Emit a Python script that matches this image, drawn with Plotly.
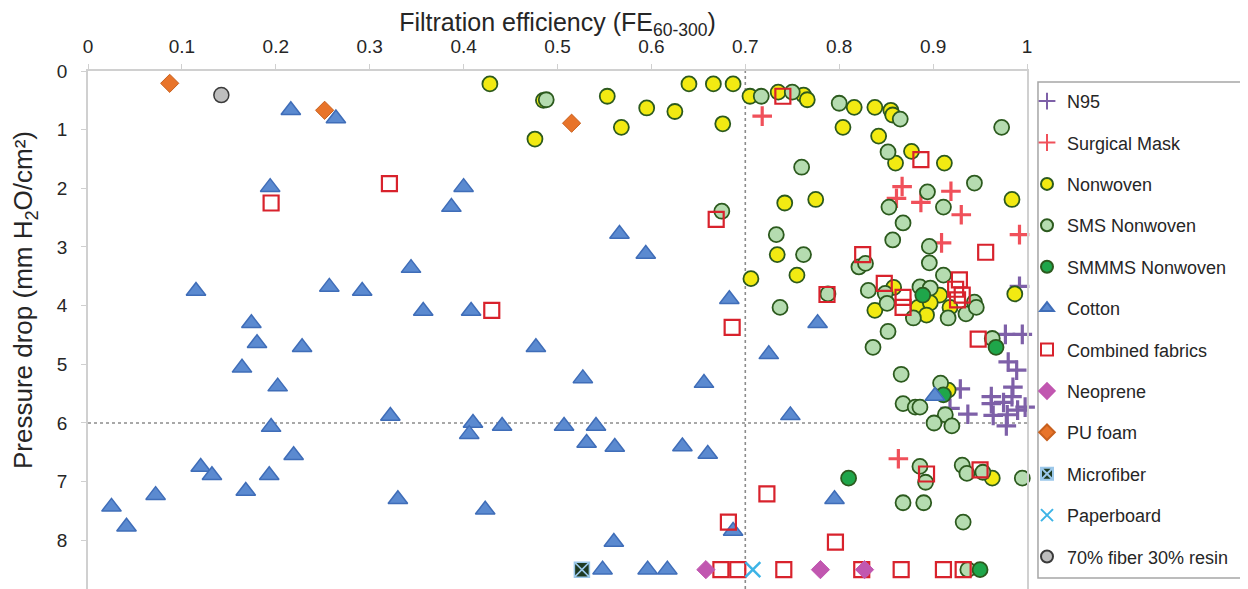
import plotly.graph_objects as go

# ---------------- data ----------------
n95_x = [0.992, 0.977, 0.995, 0.980, 0.989, 0.929, 0.985, 0.962, 0.984, 0.962, 0.975, 0.998, 0.990, 0.937, 0.964, 0.979, 0.978, 0.918]
n95_y = [3.67, 4.49, 4.49, 4.96, 5.10, 5.42, 5.39, 5.55, 5.55, 5.67, 5.65, 5.73, 5.78, 5.85, 5.87, 5.86, 6.05, 5.75]

surg_x = [0.718, 0.867, 0.861, 0.887, 0.919, 0.930, 0.909, 0.992, 0.863]
surg_y = [0.77, 1.97, 2.17, 2.24, 2.05, 2.45, 2.93, 2.79, 6.61]

nonwoven_x = [0.428, 0.485, 0.476, 0.553, 0.595, 0.568, 0.625, 0.640, 0.666, 0.687, 0.676, 0.705, 0.735, 0.762,
              0.766, 0.742, 0.775, 0.734, 0.755, 0.706, 0.816, 0.804, 0.838, 0.855, 0.857, 0.842, 0.877, 0.860,
              0.912, 0.984, 0.987, 0.858, 0.907, 0.884, 0.897, 0.918, 0.838, 0.893, 0.916, 0.963]
nonwoven_y = [0.22, 0.50, 1.16, 0.43, 0.63, 0.96, 0.69, 0.22, 0.22, 0.22, 0.90, 0.43, 0.36, 0.41,
              0.49, 2.25, 2.19, 3.13, 3.48, 3.54, 0.62, 0.96, 0.62, 0.67, 0.75, 1.11, 1.37, 1.57,
              1.57, 2.19, 3.80, 3.69, 3.82, 4.03, 3.95, 4.03, 4.08, 4.16, 5.44, 6.94]

sms_x = [0.488, 0.717, 0.750, 0.800, 0.865, 0.973, 0.760, 0.852, 0.944, 0.894, 0.911, 0.853, 0.868, 0.857,
         0.896, 0.896, 0.911, 0.821, 0.828, 0.675, 0.733, 0.762, 0.788, 0.831, 0.849, 0.851, 0.886, 0.897,
         0.944, 0.935, 0.916, 0.879, 0.946, 0.852, 0.836, 0.963, 0.866, 0.908, 0.868, 0.881, 0.886, 0.913,
         0.901, 0.920, 0.737, 0.886, 0.892, 0.931, 0.936, 0.953, 0.995, 0.868, 0.890, 0.932, 0.937]
sms_y = [0.49, 0.43, 0.36, 0.55, 0.82, 0.96, 1.64, 1.38, 1.91, 2.06, 2.32, 2.32, 2.59, 2.88,
         2.99, 3.27, 3.48, 3.34, 3.28, 2.39, 2.79, 3.13, 3.80, 3.74, 3.79, 3.96, 3.68, 3.70,
         3.94, 4.14, 4.21, 4.21, 4.03, 4.44, 4.71, 4.56, 5.17, 5.32, 5.67, 5.73, 5.73, 5.86,
         6.00, 6.05, 4.03, 6.74, 7.01, 6.72, 6.86, 6.84, 6.94, 7.36, 7.36, 7.69, 8.5]

smmms_x = [0.889, 0.967, 0.911, 0.810, 0.950]
smmms_y = [3.82, 4.71, 5.52, 6.94, 8.5]

cotton_x = [0.216, 0.264, 0.194, 0.400, 0.387, 0.566, 0.594, 0.344, 0.115, 0.257, 0.292, 0.357, 0.408, 0.174,
            0.180, 0.228, 0.164, 0.202, 0.195, 0.322, 0.219, 0.120, 0.132, 0.193, 0.168, 0.072, 0.025, 0.041,
            0.330, 0.477, 0.527, 0.656, 0.683, 0.725, 0.777, 0.748, 0.410, 0.406, 0.441, 0.507, 0.541, 0.531,
            0.561, 0.633, 0.660, 0.423, 0.560, 0.687, 0.795, 0.902, 0.548, 0.596, 0.617]
cotton_y = [0.67, 0.81, 1.98, 1.98, 2.32, 2.78, 3.12, 3.36, 3.75, 3.68, 3.75, 4.09, 4.09, 4.30,
            4.64, 4.71, 5.06, 5.38, 6.07, 5.88, 6.55, 6.75, 6.89, 6.89, 7.16, 7.23, 7.43, 7.77,
            7.30, 4.71, 5.24, 5.32, 3.89, 4.83, 4.30, 5.87, 6.00, 6.19, 6.05, 6.05, 6.05, 6.34,
            6.41, 6.40, 6.53, 7.48, 8.03, 7.84, 7.30, 5.54, 8.5, 8.5, 8.5]

combined_x = [0.321, 0.195, 0.740, 0.669, 0.787, 0.430, 0.686, 0.723, 0.682, 0.796, 0.887, 0.825, 0.956,
              0.848, 0.928, 0.868, 0.868, 0.924, 0.931, 0.926, 0.948, 0.893, 0.950,
              0.674, 0.692, 0.741, 0.824, 0.866, 0.911, 0.932]
combined_y = [1.92, 2.25, 0.43, 2.53, 3.81, 4.08, 4.37, 7.21, 7.69, 8.03, 1.51, 3.13, 3.09,
              3.62, 3.56, 3.86, 4.03, 3.72, 3.82, 3.90, 4.57, 6.87, 6.80,
              8.5, 8.5, 8.5, 8.5, 8.5, 8.5, 8.5]

neoprene_x = [0.658, 0.780, 0.827]
neoprene_y = [8.5, 8.5, 8.5]

pufoam_x = [0.087, 0.252, 0.515]
pufoam_y = [0.21, 0.67, 0.89]

microfiber_x = [0.526]
microfiber_y = [8.5]

paperboard_x = [0.708]
paperboard_y = [8.5]

resin_x = [0.142]
resin_y = [0.41]

x_ticks = [0, 0.1, 0.2, 0.3, 0.4, 0.5, 0.6, 0.7, 0.8, 0.9, 1]
x_tick_text = ["0", "0.1", "0.2", "0.3", "0.4", "0.5", "0.6", "0.7", "0.8", "0.9", "1"]
y_ticks = [0, 1, 2, 3, 4, 5, 6, 7, 8]

fe_threshold = 0.7
dp_threshold = 6

# ---------------- figure ----------------
FONT = "Arial, Liberation Sans, Helvetica, sans-serif"
DARK_OUT = "#2C5A1E"
TXT = "#262626"

fig = go.Figure()

def add(name, xs, ys, symbol, size, color, line_color, line_width, group):
    fig.add_trace(go.Scatter(
        x=xs, y=ys, mode="markers", name=name, legendgroup=group,
        marker=dict(symbol=symbol, size=size, color=color,
                    line=dict(color=line_color, width=line_width)),
        cliponaxis=False,
    ))

add("N95", n95_x, n95_y, "cross-thin", 14, "#7E60A8", "#7E60A8", 3.2, "g01")
add("Surgical Mask", surg_x, surg_y, "cross-thin", 14, "#F0505A", "#F0505A", 3.2, "g02")
add("Nonwoven", nonwoven_x, nonwoven_y, "circle", 15, "#F2EA12", DARK_OUT, 1.8, "g03")
add("SMS Nonwoven", sms_x, sms_y, "circle", 15, "#B5DCB0", DARK_OUT, 1.8, "g04")
add("SMMMS Nonwoven", smmms_x, smmms_y, "circle", 15, "#1FA64A", DARK_OUT, 1.8, "g05")
add("Cotton", cotton_x, cotton_y, "triangle-up", 17, "#5B8AD0", "#3F6DB8", 1.5, "g06")
add("Combined fabrics", combined_x, combined_y, "square-open", 15, "#D8222C", "#D8222C", 2.2, "g07")
add("Neoprene", neoprene_x, neoprene_y, "diamond", 14, "#C157B0", "#C157B0", 1, "g08")
add("PU foam", pufoam_x, pufoam_y, "diamond", 14, "#E8742A", "#C8601E", 1, "g09")
add("Microfiber", microfiber_x, microfiber_y, "square-x", 15, "#1E3A22", "#9CC8EA", 1.5, "g10")
add("Paperboard", paperboard_x, paperboard_y, "x-thin", 15, "#3DB4E6", "#3DB4E6", 2.5, "g11")
add("70% fiber 30% resin", resin_x, resin_y, "circle", 15, "#BEBEBE", "#3A3A3A", 1.5, "g12")

fig.add_vline(x=fe_threshold, line=dict(color="#8C8C8C", width=1.6, dash="dot"), layer="below")
fig.add_hline(y=dp_threshold, line=dict(color="#8C8C8C", width=1.6, dash="dot"), layer="below")

# legend frame
fig.add_shape(type="rect", xref="paper", yref="paper", x0=1.0117, x1=1.232, y0=0.0212, y1=0.979,
              line=dict(color="#A6A6A6", width=1.5), fillcolor="rgba(0,0,0,0)", layer="above")

# y-axis title (placed as in the original, slightly above the plot centre)
fig.add_annotation(text="Pressure drop (mm H<sub>2</sub>O/cm²)", xref="paper", yref="paper",
                   x=-0.067, y=0.558, xanchor="center", yanchor="middle", textangle=-90,
                   showarrow=False, font=dict(family=FONT, size=26, color=TXT))

fig.update_layout(
    width=1240, height=581,
    margin=dict(l=80, r=221, t=63, b=0, pad=0, autoexpand=False),
    paper_bgcolor="white", plot_bgcolor="white",
    font=dict(family=FONT, size=16, color=TXT),
    showlegend=True,
    legend=dict(
        x=1.0, y=0.977, xanchor="left", yanchor="top",
        borderwidth=0, bgcolor="rgba(0,0,0,0)",
        font=dict(family=FONT, size=18, color=TXT),
        traceorder="grouped", tracegroupgap=15,
        itemsizing="constant", itemwidth=30,
        maxheight=580,
    ),
    xaxis=dict(
        side="top", range=[0, 1], tickvals=x_ticks, ticktext=x_tick_text,
        showgrid=False, zeroline=False, showline=True, linecolor="#D0D0D0", linewidth=1.5,
        ticks="outside", ticklen=5, tickcolor="#D0D0D0", ticklabelstandoff=4,
        tickfont=dict(size=19, color=TXT), automargin=False,
        title=dict(text="Filtration efficiency (FE<sub>60-300</sub>)", font=dict(size=25, color=TXT), standoff=0),
    ),
    yaxis=dict(
        range=[8.83, 0], tickvals=y_ticks,
        showgrid=False, zeroline=False, showline=True, linecolor="#D0D0D0", linewidth=1.5, mirror=True,
        ticks="outside", ticklen=5, tickcolor="#D0D0D0", ticklabelstandoff=10,
        tickfont=dict(size=19, color=TXT), automargin=False,
    ),
)

fig.write_html("out.html")
